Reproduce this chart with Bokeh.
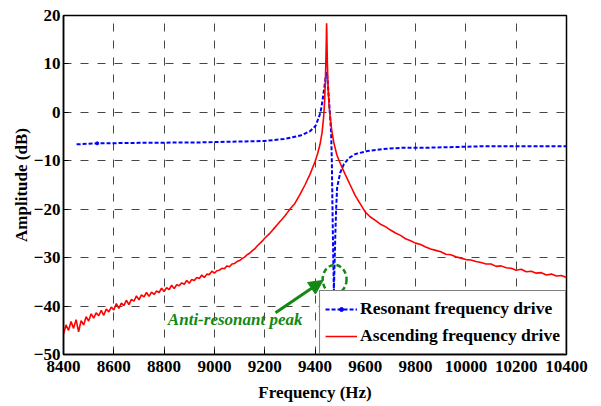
from bokeh.plotting import figure
from bokeh.models import (Legend, LegendItem, Label, Arrow, NormalHead,
                          FixedTicker)
from bokeh.embed import file_html
from bokeh.resources import INLINE

# ---------------- data ----------------
x_ticks = [8400, 8600, 8800, 9000, 9200, 9400, 9600, 9800, 10000, 10200, 10400]
y_ticks = [-50, -40, -30, -20, -10, 0, 10, 20]

# Resonant frequency drive (blue dashed)
blue_freq = [8452, 8534, 8700, 8945, 9124, 9200, 9276, 9342, 9380, 9402, 9414,
             9422, 9430, 9438, 9443, 9447, 9451, 9455, 9459, 9464, 9467, 9469,
             9471, 9473, 9475, 9478, 9481, 9484, 9488, 9500, 9515, 9535, 9561,
             9607, 9687, 9750, 9850, 10070, 10400]
blue_db = [-6.6, -6.4, -6.3, -6.2, -6.0, -5.9, -5.5, -4.8, -3.9, -2.8, -1.2,
           0.0, 2.5, 5.5, 7.5, 8.3, 6.0, 3.0, 0.0, -4.0, -10.0, -18.0,
           -25.0, -31.0, -37.0, -31.0, -25.0, -20.0, -15.5, -12.5, -10.7, -9.4, -8.6,
           -8.0, -7.5, -7.3, -7.3, -7.0, -7.0]
blue_marker_freq = [8534]
blue_marker_db = [-6.4]

# Ascending frequency drive (red solid)
red_freq_left = list(range(8400, 9310, 10))
red_db_left = [-45.8, -43.9, -45.0, -43.2, -44.6, -42.8, -45.3, -43.0, -43.9, -42.2,
               -43.1, -41.6, -42.5, -41.4, -42.0, -40.9, -41.9, -40.6, -41.2, -40.2,
               -40.8, -39.5, -40.5, -39.4, -39.9, -38.8, -39.7, -38.6, -39.0, -37.9,
               -38.7, -37.7, -38.1, -37.2, -38.0, -37.1, -37.6, -36.9, -37.2, -36.3,
               -37.0, -36.2, -36.6, -35.7, -36.4, -35.6, -35.8, -35.2, -35.5, -34.7,
               -35.3, -34.5, -34.7, -34.1, -34.3, -33.6, -34.1, -33.4, -33.5, -32.8,
               -33.2, -32.7, -32.6, -32.2, -32.3, -31.7, -31.9, -31.3, -31.2, -30.8,
               -30.6, -30.2, -29.9, -29.4, -29.1, -28.6, -28.2, -27.6, -27.1, -26.6,
               -26.0, -25.5, -25.0, -24.4, -23.8, -23.2, -22.6, -22.0, -21.4, -20.7,
               -20.0]
red_freq_peak = [9310, 9320, 9340, 9360, 9380, 9400, 9410, 9420, 9428, 9434, 9438,
                 9441, 9443, 9445, 9446, 9447, 9449, 9452, 9456, 9460, 9466, 9475,
                 9487, 9500, 9520, 9540, 9560, 9580, 9600]
red_db_peak = [-19.4, -18.8, -17.0, -15.0, -12.8, -10.2, -8.6, -6.6, -4.2, -1.2, 2.0,
               6.0, 10.0, 15.0, 18.4, 16.5, 10.5, 5.0, 1.5, -0.8, -3.5, -6.3,
               -8.8, -10.5, -12.8, -15.0, -17.2, -18.9, -20.6]
red_freq_right = list(range(9620, 10410, 20))
red_db_right = [-21.6, -22.3, -23.1, -23.6, -24.3, -24.9, -25.4, -26.1, -26.5, -27.0,
                -27.3, -27.8, -28.2, -28.5, -28.8, -29.3, -29.4, -29.8, -30.1, -30.4,
                -30.5, -30.8, -31.0, -31.3, -31.3, -31.8, -31.7, -32.1, -32.2, -32.6,
                -32.4, -32.9, -32.8, -33.2, -33.1, -33.6, -33.4, -33.8, -33.7, -34.1]
red_freq = red_freq_left + red_freq_peak + red_freq_right
red_db = red_db_left + red_db_peak + red_db_right

# annotation
anno_text = "Anti-resonant peak"
anno_pos = (8815, -42.7)
arrow_from = (9243, -41.4)
arrow_to = (9432, -34.7)
ellipse_center = (9478, -34.5)
ellipse_size = (95, 6.0)

GREEN = "#138913"
FONT = "'Liberation Serif', 'Times New Roman', serif"

# ---------------- figure ----------------
p = figure(width=601, height=406, output_backend="svg", toolbar_location=None,
           x_range=(8400, 10400), y_range=(-50, 20),
           min_border_left=63, min_border_right=35, min_border_top=15,
           min_border_bottom=52)
p.background_fill_color = "white"
p.border_fill_color = "white"
p.outline_line_color = "black"
p.outline_line_width = 1.5
p.outline_line_alpha = 1

p.xaxis.ticker = FixedTicker(ticks=x_ticks)
p.yaxis.ticker = FixedTicker(ticks=y_ticks)
for ax in (p.xaxis[0], p.yaxis[0]):
    ax.axis_line_color = "black"
    ax.axis_line_width = 1.5
    ax.major_tick_in = 5
    ax.major_tick_out = 0
    ax.minor_tick_line_color = None
    ax.major_tick_line_color = "black"
    ax.major_label_text_font = FONT
    ax.major_label_text_font_style = "bold"
    ax.major_label_text_font_size = "17px"
    ax.major_label_text_color = "black"
    ax.axis_label_text_font = FONT
    ax.axis_label_text_font_style = "bold"
    ax.axis_label_text_font_size = "17px"
    ax.axis_label_text_color = "black"

p.xaxis.axis_label = "Frequency (Hz)"
p.yaxis.axis_label = "Amplitude (dB)"
p.xaxis.major_label_standoff = 6
p.xaxis.axis_label_standoff = 8
p.yaxis.major_label_standoff = 3
p.yaxis.axis_label_standoff = 0

for g in (p.xgrid[0], p.ygrid[0]):
    g.grid_line_color = "#333333"
    g.grid_line_alpha = 0.9
    g.grid_line_width = 1
    g.grid_line_dash = "8 9"

# curves
blue_line = p.line(blue_freq, blue_db, line_color="#0000ff", line_width=2,
                   line_dash="4 2")
blue_dot = p.scatter(blue_marker_freq, blue_marker_db, marker="circle", size=3,
                     fill_color="#0000ff", line_color="#0000ff")
red_line = p.line(red_freq, red_db, line_color="#ff0000", line_width=1.6)

# annotation
p.ellipse(x=[ellipse_center[0]], y=[ellipse_center[1]], width=[ellipse_size[0]],
          height=[ellipse_size[1]], fill_color=None, line_color=GREEN,
          line_width=2.5, line_dash="5 3")
p.add_layout(Arrow(x_start=arrow_from[0], y_start=arrow_from[1],
                   x_end=arrow_to[0], y_end=arrow_to[1],
                   line_color=GREEN, line_width=3,
                   end=NormalHead(size=14, fill_color=GREEN, line_color=GREEN)))
p.add_layout(Label(x=anno_pos[0], y=anno_pos[1], text=anno_text,
                   text_font=FONT, text_font_style="bold italic",
                   text_font_size="17px", text_color=GREEN,
                   text_baseline="middle", text_align="left"))

legend = Legend(items=[
    LegendItem(label="Resonant frequency drive", renderers=[blue_line, blue_dot]),
    LegendItem(label="Ascending frequency drive", renderers=[red_line]),
], location="bottom_right")
legend.margin = 0
legend.padding = 5
legend.spacing = 2
legend.glyph_width = 32
legend.glyph_height = 10
legend.label_height = 25
legend.label_standoff = 3
legend.label_text_font = FONT
legend.label_text_font_style = "bold"
legend.label_text_font_size = "17.5px"
legend.label_text_color = "black"
legend.border_line_color = "black"
legend.border_line_width = 1.5
legend.background_fill_color = "white"
legend.background_fill_alpha = 1
p.add_layout(legend, "center")

open("out.html", "w").write(file_html(p, INLINE))
